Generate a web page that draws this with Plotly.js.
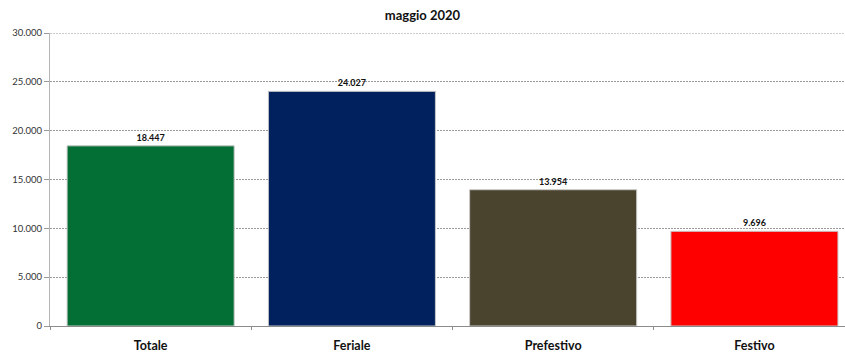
<!DOCTYPE html>
<html>
<head>
<meta charset="utf-8">
<script src="https://cdn.plot.ly/plotly-3.0.1.min.js"></script>
<style>html,body{margin:0;padding:0;background:#fff;}#chart{width:845px;height:354px;}</style>
</head>
<body>
<div id="chart"></div>
<script>
// Passeggeri medi giornalieri per tipo di giorno
const categories = ["Totale", "Feriale", "Prefestivo", "Festivo"];
const values = [18447, 24027, 13954, 9696];
const barColors = ["#036f34", "#00205e", "#4a432e", "#ff0000"];
const yTicks = [0, 5000, 10000, 15000, 20000, 25000, 30000];
const yMax = 30000;

const trace = {
  type: "bar",
  x: categories,
  y: values,
  marker: { color: barColors, line: { color: "#c8c8c8", width: 1 } },
  text: values,
  texttemplate: "%{y:,}",
  textposition: "outside",
  cliponaxis: false,
  textfont: { family: "Lato, 'Open Sans', sans-serif", size: 9, color: "#111", weight: "bold" },
  hoverinfo: "x+y"
};

const layout = {
  width: 845,
  height: 354,
  separators: ",.",
  margin: { l: 50, r: 0, t: 33, b: 28, pad: 0 },
  paper_bgcolor: "#fff",
  plot_bgcolor: "#fff",
  showlegend: false,
  bargap: 0.17,
  title: {
    text: "maggio 2020",
    font: { family: "Lato, 'Open Sans', sans-serif", size: 13, color: "#111", weight: "bold" },
    x: 0.5, xanchor: "center", y: 0.955, yanchor: "middle"
  },
  // top gridline sits on the edge of the range, so it is drawn as a shape
  shapes: [{
    type: "line", xref: "paper", yref: "y",
    x0: 0, x1: 1, y0: yMax, y1: yMax,
    line: { color: "#9a9a9a", width: 1, dash: "2px,1px" }
  }],
  xaxis: {
    type: "category",
    range: [-0.5, 3.45],
    showline: true, linecolor: "#8c8c8c", linewidth: 1,
    showgrid: false,
    ticks: "outside", tickson: "boundaries", ticklen: 3, tickcolor: "#8c8c8c",
    ticklabelstandoff: 8,
    tickfont: { family: "Lato, 'Open Sans', sans-serif", size: 12.5, color: "#111", weight: "bold" },
    fixedrange: true
  },
  yaxis: {
    range: [0, yMax],
    tickvals: yTicks,
    tickformat: ",d",
    showline: true, linecolor: "#b4b4b4", linewidth: 1,
    showgrid: true, gridcolor: "#9a9a9a", gridwidth: 1, griddash: "2px,1px",
    zeroline: false,
    ticks: "outside", ticklen: 5, tickcolor: "#9a9a9a",
    tickfont: { family: "Lato, 'Open Sans', sans-serif", size: 9.5, color: "#333" },
    fixedrange: true
  }
};

Plotly.newPlot("chart", [trace], layout, { displayModeBar: false, staticPlot: true });
</script>
</body>
</html>
